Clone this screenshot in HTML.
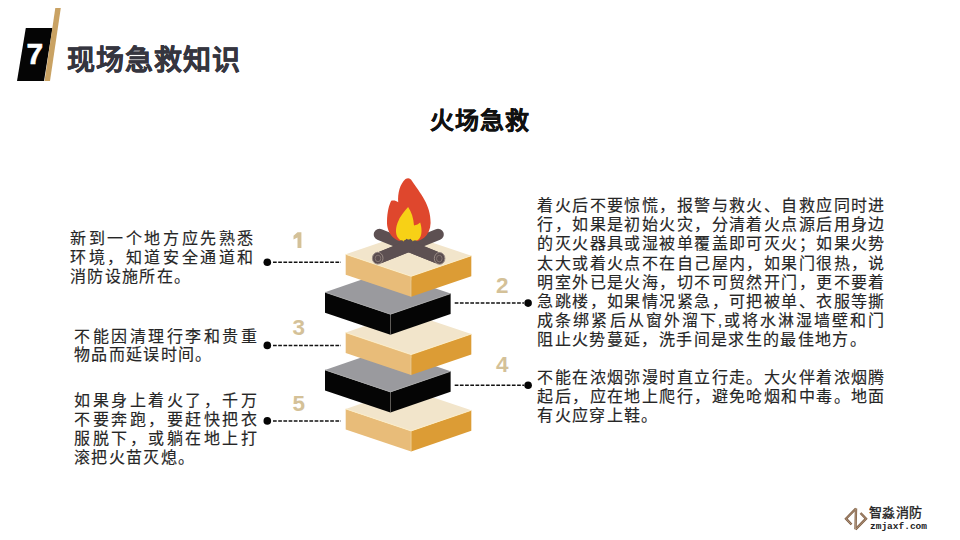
<!DOCTYPE html>
<html lang="zh-CN">
<head>
<meta charset="utf-8">
<style>
html,body{margin:0;padding:0;background:#fff;}
body{width:960px;height:540px;position:relative;overflow:hidden;font-family:"Liberation Sans",sans-serif;}
.abs{position:absolute;white-space:nowrap;}
.title{left:67px;top:50.5px;font-size:28px;font-weight:bold;color:#35353f;letter-spacing:1px;line-height:19px;-webkit-text-stroke:0.35px #35353f;}
.sub{left:430px;top:111px;font-size:24px;font-weight:bold;color:#111;letter-spacing:1px;line-height:19px;-webkit-text-stroke:0.3px #111;}
.txt{font-size:16px;line-height:19px;color:#262626;-webkit-text-stroke:0.15px #262626;}
.j{text-align:justify;text-align-last:justify;}
.num{font-size:22.5px;font-weight:bold;color:#d4c198;line-height:19px;}
.seven{left:26.5px;top:43.5px;font-size:30px;font-weight:bold;color:#fff;line-height:19px;-webkit-text-stroke:0.6px #fff;}
.wm1{left:869px;top:503px;font-size:13px;color:#222;line-height:19px;letter-spacing:0.3px;-webkit-text-stroke:0.35px #222;}
.wm2{left:870px;top:520.5px;font-size:9.5px;font-weight:bold;color:#222;line-height:12px;font-family:"Liberation Mono",monospace;}
</style>
</head>
<body>
<svg class="abs" style="left:0;top:0" width="960" height="540" viewBox="0 0 960 540">
<polygon points="25.8,28 52.5,28 44,81 17,81" fill="#050505"/>
<polygon points="55.3,8 60.8,8 50,81 44.5,81" fill="#c9a263"/>
<polygon points="345.7,408.9 411.1,430.9 411.1,451.4 345.7,429.4" fill="#e8bc79"/>
<polygon points="411.1,430.9 471.3,410.3 471.3,430.8 411.1,451.4" fill="#dc9c35"/>
<polygon points="345.7,408.9 411.1,430.9 471.3,410.3 405.9,388.3" fill="#f2e5cb"/>
<polyline points="345.7,408.9 411.1,430.9 471.3,410.3" fill="none" stroke="#fcedc6" stroke-width="0.9"/>
<line x1="411.1" y1="430.9" x2="411.1" y2="451.4" stroke="#fcedc6" stroke-width="0.6" opacity="0.6"/>
<polygon points="325,369.9 390.4,391.9 390.4,412.4 325,390.4" fill="#050505"/>
<polygon points="390.4,391.9 450.6,371.3 450.6,391.8 390.4,412.4" fill="#050505"/>
<polygon points="325,369.9 390.4,391.9 450.6,371.3 385.2,349.3" fill="#9a9a9e"/>
<polyline points="325,369.9 390.4,391.9 450.6,371.3" fill="none" stroke="#a8a8a8" stroke-width="0.9"/>
<line x1="390.4" y1="391.9" x2="390.4" y2="412.4" stroke="#a8a8a8" stroke-width="0.6" opacity="0.6"/>
<polygon points="345.7,332.6 411.1,354.6 411.1,375.1 345.7,353.1" fill="#e8bc79"/>
<polygon points="411.1,354.6 471.3,334 471.3,354.5 411.1,375.1" fill="#dc9c35"/>
<polygon points="345.7,332.6 411.1,354.6 471.3,334 405.9,312" fill="#f2e5cb"/>
<polyline points="345.7,332.6 411.1,354.6 471.3,334" fill="none" stroke="#fcedc6" stroke-width="0.9"/>
<line x1="411.1" y1="354.6" x2="411.1" y2="375.1" stroke="#fcedc6" stroke-width="0.6" opacity="0.6"/>
<polygon points="325,292.2 390.4,314.2 390.4,334.7 325,312.7" fill="#050505"/>
<polygon points="390.4,314.2 450.6,293.6 450.6,314.1 390.4,334.7" fill="#050505"/>
<polygon points="325,292.2 390.4,314.2 450.6,293.6 385.2,271.6" fill="#9a9a9e"/>
<polyline points="325,292.2 390.4,314.2 450.6,293.6" fill="none" stroke="#a8a8a8" stroke-width="0.9"/>
<line x1="390.4" y1="314.2" x2="390.4" y2="334.7" stroke="#a8a8a8" stroke-width="0.6" opacity="0.6"/>
<polygon points="345.7,254.3 411.1,276.3 411.1,296.8 345.7,274.8" fill="#e8bc79"/>
<polygon points="411.1,276.3 471.3,255.7 471.3,276.2 411.1,296.8" fill="#dc9c35"/>
<polygon points="345.7,254.3 411.1,276.3 471.3,255.7 405.9,233.7" fill="#f2e5cb"/>
<polyline points="345.7,254.3 411.1,276.3 471.3,255.7" fill="none" stroke="#fcedc6" stroke-width="0.9"/>
<line x1="411.1" y1="276.3" x2="411.1" y2="296.8" stroke="#fcedc6" stroke-width="0.6" opacity="0.6"/>

<g stroke="#5d5052" stroke-width="11.5" stroke-linecap="round">
<line x1="379.5" y1="234.5" x2="438" y2="258"/>
<line x1="438" y1="234.5" x2="379" y2="258"/>
</g>
<path d="M405.5,179 C408,177.5 410.5,178 412,181 C420,193 431,205 430.6,223 C430.3,236 421,242.5 408.5,242.5 C395,242.5 386.5,234 387,221 C387.3,212 389,205 391.2,200.8 C393.5,200 396,200.5 398.2,202.2 C397.5,193 400,184 405.5,179 Z" fill="#df472d"/>
<path d="M408.1,207 C411.5,212 413.5,218 414,225.5 C416.5,225 418.5,224 420.2,222.5 C422,228 422.5,236 418.5,239.5 C415,242.5 404,243.5 399.5,239.5 C395.5,236 395,230 397.5,223 C400,216 404.5,211 408.1,207 Z" fill="#f7d116"/>
<g fill="#5e5052">
<circle cx="401.5" cy="242.5" r="2.3"/><circle cx="406" cy="242" r="2.3"/><circle cx="410.5" cy="242" r="2.3"/><circle cx="415" cy="242.5" r="2.3"/>
</g>
<g stroke="#5d5052" stroke-width="11.5" stroke-linecap="butt">
<line x1="404" y1="244.2" x2="438" y2="258"/>
<line x1="413" y1="244.2" x2="379" y2="258"/>
</g>
<g fill="#5b4d4f" stroke="#9a8c86" stroke-width="1">
<ellipse cx="377.7" cy="258.2" rx="5.3" ry="5.9"/>
<ellipse cx="439.6" cy="258.4" rx="5.3" ry="5.9"/>
</g>
<g fill="none" stroke="#8d7f7a" stroke-width="0.8">
<ellipse cx="378" cy="258.4" rx="2.8" ry="3.3"/>
<ellipse cx="439.3" cy="258.6" rx="2.8" ry="3.3"/>
</g>

<circle cx="267.3" cy="262.2" r="3.8" fill="#050505"/>
<line x1="273" y1="262.2" x2="341" y2="262.2" stroke="#111" stroke-width="1.5" stroke-dasharray="3.7 1.5"/>
<circle cx="267.3" cy="345.4" r="3.8" fill="#050505"/>
<line x1="273" y1="345.4" x2="341" y2="345.4" stroke="#111" stroke-width="1.5" stroke-dasharray="3.7 1.5"/>
<circle cx="267.3" cy="420.9" r="3.8" fill="#050505"/>
<line x1="273" y1="420.9" x2="341" y2="420.9" stroke="#111" stroke-width="1.5" stroke-dasharray="3.7 1.5"/>
<circle cx="528.1" cy="303.1" r="3.8" fill="#050505"/>
<line x1="454.7" y1="303.1" x2="524" y2="303.1" stroke="#111" stroke-width="1.5" stroke-dasharray="3.7 1.5"/>
<circle cx="528.1" cy="385.25" r="3.8" fill="#050505"/>
<line x1="454.7" y1="385.25" x2="524" y2="385.25" stroke="#111" stroke-width="1.5" stroke-dasharray="3.7 1.5"/>

<g fill="none" stroke="#7f5f45" stroke-width="2.4" stroke-linejoin="miter" stroke-miterlimit="10">
<polyline points="856,508.5 846,518.7 851.5,524.5"/>
<polyline points="855.5,529.3 866,518.7 860.5,513"/>
<polyline points="856,508.5 855.5,529.3"/>
</g>
<g fill="none" stroke="#d3bca5" stroke-width="0.6" stroke-linejoin="miter" stroke-miterlimit="10">
<polyline points="856,508.5 846,518.7 851.5,524.5"/>
<polyline points="855.5,529.3 866,518.7 860.5,513"/>
<polyline points="856,508.5 855.5,529.3"/>
</g>

<polygon points="297.5,232.3 301.4,232.3 301.4,247.9 297.5,247.9 297.5,237.6 293.5,239.6 293.5,235.8" fill="#d4c198"/>
</svg>
<div class="abs seven">7</div>
<div class="abs title">现场急救知识</div>
<div class="abs sub">火场急救</div>

<div class="abs num" style="left:292.5px;top:317.5px">3</div>
<div class="abs num" style="left:292.5px;top:393.5px">5</div>
<div class="abs num" style="left:496px;top:275.5px">2</div>
<div class="abs num" style="left:496px;top:354.5px">4</div>

<div class="abs txt j" style="left:70px;top:229px;width:183.3px">新到一个地方应先熟悉</div>
<div class="abs txt j" style="left:70px;top:248px;width:183.3px">环境，知道安全通道和</div>
<div class="abs txt" style="left:70px;top:267px;letter-spacing:1.35px">消防设施所在。</div>
<div class="abs txt j" style="left:74px;top:326.5px;width:182.9px">不能因清理行李和贵重</div>
<div class="abs txt" style="left:74px;top:345.3px;letter-spacing:1.35px">物品而延误时间。</div>
<div class="abs txt j" style="left:74px;top:390.5px;width:182.9px">如果身上着火了，千万</div>
<div class="abs txt j" style="left:74px;top:409.7px;width:182.9px">不要奔跑，要赶快把衣</div>
<div class="abs txt j" style="left:74px;top:428.9px;width:182.9px">服脱下，或躺在地上打</div>
<div class="abs txt" style="left:74px;top:448.1px;letter-spacing:1.35px">滚把火苗灭熄。</div>
<div class="abs txt j" style="left:537.4px;top:196px;width:347px">着火后不要惊慌，报警与救火、自救应同时进</div>
<div class="abs txt j" style="left:537.4px;top:215.2px;width:347px">行，如果是初始火灾，分清着火点源后用身边</div>
<div class="abs txt j" style="left:537.4px;top:234.4px;width:347px">的灭火器具或湿被单覆盖即可灭火；如果火势</div>
<div class="abs txt j" style="left:537.4px;top:253.6px;width:347px">太大或着火点不在自己屋内，如果门很热，说</div>
<div class="abs txt j" style="left:537.4px;top:272.8px;width:347px">明室外已是火海，切不可贸然开门，更不要着</div>
<div class="abs txt j" style="left:537.4px;top:292px;width:347px">急跳楼，如果情况紧急，可把被单、衣服等撕</div>
<div class="abs txt j" style="left:537.4px;top:311.2px;width:347px">成条绑紧后从窗外溜下,或将水淋湿墙壁和门</div>
<div class="abs txt" style="left:537.4px;top:330.4px;letter-spacing:1.35px">阻止火势蔓延，洗手间是求生的最佳地方。</div>
<div class="abs txt j" style="left:537.4px;top:368px;width:347px">不能在浓烟弥漫时直立行走。大火伴着浓烟腾</div>
<div class="abs txt j" style="left:537.4px;top:387.1px;width:347px">起后，应在地上爬行，避免呛烟和中毒。地面</div>
<div class="abs txt" style="left:537.4px;top:406.2px;letter-spacing:1.35px">有火应穿上鞋。</div>
<div class="abs wm1">智淼消防</div>
<div class="abs wm2">zmjaxf.com</div>
</body>
</html>
